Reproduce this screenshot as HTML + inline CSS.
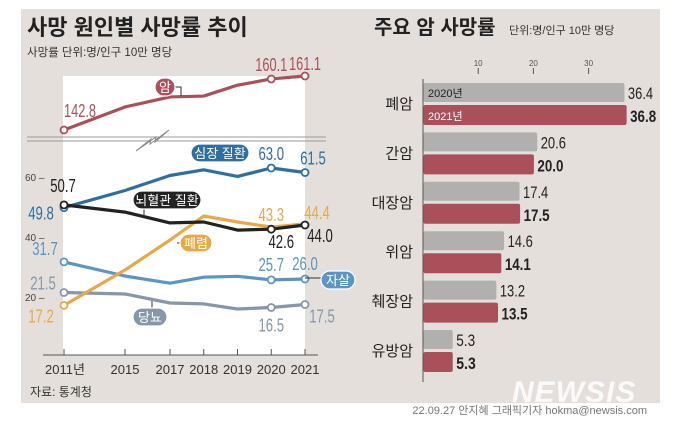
<!DOCTYPE html>
<html><head><meta charset="utf-8">
<style>
html,body{margin:0;padding:0;background:#fff;}
body{width:683px;height:431px;overflow:hidden;position:relative;font-family:"Liberation Sans","Noto Sans CJK KR",sans-serif;}
svg{position:absolute;left:0;top:0;}
</style></head>
<body>
<svg id="chart" width="683" height="431" viewBox="0 0 683 431" xmlns="http://www.w3.org/2000/svg">
  <rect x="21" y="9" width="639" height="394" fill="#e4dfda"/>
  <rect x="63" y="76" width="242" height="279" fill="#ffffff"/>
  <text x="27" y="35" font-size="22" font-weight="bold" fill="#222">사망 원인별 사망률 추이</text>
  <text x="27" y="56" font-size="11.5" fill="#333">사망률 단위:명/인구 10만 명당</text>
  <g>
    <line x1="27" y1="137" x2="326" y2="137" stroke="#9a9a9a" stroke-width="1"/>
    <line x1="27" y1="141" x2="326" y2="141" stroke="#9a9a9a" stroke-width="1"/>
    <polygon points="136,151 151,139 150,144 169,130 155,142 156,137" fill="#fff" stroke="#888" stroke-width="1"/>
  </g>
  <g id="lines"></g>
  <g id="xaxis"></g>
  <text x="30" y="396" font-size="12" fill="#333">자료: 통계청</text>

  <text x="374" y="34" font-size="20" font-weight="bold" fill="#222">주요 암 사망률</text>
  <text x="509" y="34" font-size="11" fill="#333">단위:명/인구 10만 명당</text>
  <g id="bars"></g>

  <text x="512" y="402" font-size="30" font-weight="bold" font-style="italic" fill="#ffffff" fill-opacity="0.85" letter-spacing="1">NEWSIS</text>
  <text x="647" y="414" font-size="11" fill="#777" text-anchor="end">22.09.27 안지혜 그래픽기자 hokma@newsis.com</text>
</svg>
<script>
const years = [2011, 2015, 2017, 2018, 2019, 2020, 2021];
const yearLabels = ["2011년", "2015", "2017", "2018", "2019", "2020", "2021"];
const cancer = [142.8, 150.6, 154.0, 154.3, 158.0, 160.1, 161.1];
const heart = [49.8, 55.5, 60.5, 62.4, 60.2, 63.0, 61.5];
const cerebro = [50.7, 48.3, 44.7, 45.0, 42.3, 42.6, 44.0];
const pneumonia = [17.2, 29.0, 39.0, 47.0, 45.0, 43.3, 44.4];
const suicide = [31.7, 27.0, 24.6, 26.6, 26.9, 25.7, 26.0];
const diabetes = [21.5, 21.0, 18.0, 17.7, 16.0, 16.5, 17.5];
const yTicks = [60, 40, 20];

const cancerTypes = ["폐암", "간암", "대장암", "위암", "췌장암", "유방암"];
const rate2020 = [36.4, 20.6, 17.4, 14.6, 13.2, 5.3];
const rate2021 = [36.8, 20.0, 17.5, 14.1, 13.5, 5.3];
const barTicks = [10, 20, 30];

const NS = "http://www.w3.org/2000/svg";
function mk(tag, attrs, parent, text) {
  const e = document.createElementNS(NS, tag);
  for (const k in attrs) e.setAttribute(k, attrs[k]);
  if (text !== undefined) e.textContent = text;
  parent.appendChild(e);
  return e;
}
const xb = [2011, 2015, 2017, 2021], xp = [64, 125, 170, 305];
function xS(yr) {
  for (let i = 0; i < xb.length - 1; i++) {
    if (yr <= xb[i + 1]) return xp[i] + (yr - xb[i]) / (xb[i + 1] - xb[i]) * (xp[i + 1] - xp[i]);
  }
  return xp[xp.length - 1];
}
function yS(v) { return 297 - (v - 20) * 3; }
function yC(v) { return 130 - (v - 142.8) * 2.95; }

const L = document.getElementById("lines");

yTicks.forEach(t => {
  const g = mk("text", {x: 25, y: yS(t) + 4, "font-size": 10, fill: "#444"}, L, t + " –");
  
  
});

function drawSeries(vals, color, name, ys, dots, labels) {
  const pts = vals.map((v, i) => xS(years[i]) + "," + ys(v)).join(" ");
  const pl = mk("polyline", {points: pts, fill: "none", stroke: color, "stroke-width": 3.2, "stroke-linejoin": "round"}, L);
  
  
  dots.forEach(i => {
    const c = mk("circle", {cx: xS(years[i]), cy: ys(vals[i]), r: 3.5, fill: "#fff", stroke: color, "stroke-width": 1.8}, L);
    
    
  });
  labels.forEach(lb => {
    const s = vals[lb.i].toFixed(1);
    const t = mk("text", {x: xS(years[lb.i]) + lb.dx, y: ys(vals[lb.i]) + lb.dy, "font-size": 18, fill: lb.c || color, "text-anchor": "middle", textLength: s.length * 6.4, lengthAdjust: "spacingAndGlyphs"}, L, s);
    
    
  });
}
function pill(cx, cy, w, txt, bg, name) {
  const g = mk("g", {}, L);
  
  
  mk("rect", {x: cx - w / 2, y: cy - 9, width: w, height: 18, rx: 9, fill: bg, stroke: "#fff", "stroke-width": 1.2}, g);
  mk("text", {x: cx, y: cy + 5, "font-size": 13, fill: "#fff", "text-anchor": "middle"}, g, txt);
}

drawSeries(cancer, "#a9505a", "cancer", yC, [0, 5, 6], [{i: 0, dx: 16, dy: -13}, {i: 5, dx: 0, dy: -8}, {i: 6, dx: 0, dy: -6}]);
drawSeries(diabetes, "#8597a8", "diabetes", yS, [0, 5, 6], [{i: 0, dx: -21, dy: -3}, {i: 5, dx: 0, dy: 24}, {i: 6, dx: 17, dy: 18}]);
drawSeries(suicide, "#5b95c4", "suicide", yS, [0, 5, 6], [{i: 0, dx: -19, dy: -7}, {i: 5, dx: 0, dy: -9}, {i: 6, dx: 0, dy: -9}]);
drawSeries(pneumonia, "#e8a84a", "pneumonia", yS, [0], [{i: 0, dx: -23, dy: 17}, {i: 5, dx: 0, dy: -6}, {i: 6, dx: 12, dy: -5}]);
drawSeries(heart, "#2e6fa0", "heart", yS, [0, 5, 6], [{i: 0, dx: -23, dy: 12}, {i: 5, dx: 0, dy: -8}, {i: 6, dx: 8, dy: -8}]);
drawSeries(cerebro, "#222222", "cerebrovascular", yS, [0, 5, 6], [{i: 0, dx: -1, dy: -13}, {i: 5, dx: 10, dy: 19}, {i: 6, dx: 15, dy: 17}]);

mk("polyline", {points: "174,87 181,87 181,96", fill: "none", stroke: "#333", "stroke-width": 1}, L);
pill(165, 87, 20, "암", "#a9505a", "cancer-legend-pill");
pill(220, 153, 58, "심장 질환", "#2e6fa0", "heart-legend-pill");
mk("line", {x1: 144, y1: 208, x2: 144, y2: 216, stroke: "#333", "stroke-width": 1}, L);
pill(167, 200, 68, "뇌혈관 질환", "#222", "cerebro-legend-pill");
mk("line", {x1: 177, y1: 243, x2: 188, y2: 243, stroke: "#333", "stroke-width": 1}, L);
pill(196, 243, 32, "폐렴", "#e8a84a", "pneumonia-legend-pill");
mk("line", {x1: 305, y1: 278, x2: 322, y2: 278, stroke: "#333", "stroke-width": 1}, L);
pill(338, 280, 34, "자살", "#5b95c4", "suicide-legend-pill");
mk("line", {x1: 152, y1: 301, x2: 152, y2: 310, stroke: "#333", "stroke-width": 1}, L);
pill(150, 317, 34, "당뇨", "#8597a8", "diabetes-legend-pill");

const X = document.getElementById("xaxis");
const ax = mk("line", {x1: 43, y1: 355, x2: 318, y2: 355, stroke: "#555", "stroke-width": 1}, X);


years.forEach((yr, i) => {
  mk("line", {x1: xS(yr), y1: 349, x2: xS(yr), y2: 355, stroke: "#555", "stroke-width": 1}, X);
  const t = mk("text", {x: xS(yr) + (i === 0 ? 1 : 0), y: 374, "font-size": 13, fill: "#333", "text-anchor": "middle"}, X, yearLabels[i]);
  
  
});

const B = document.getElementById("bars");
const x0 = 423, ppu = 5.52;
function bx(v) { return x0 + v * ppu; }
barTicks.forEach(t => {
  const tl = mk("text", {x: bx(t), y: 66, "font-size": 8, fill: "#555", "text-anchor": "middle"}, B, t);
  
  
  mk("line", {x1: bx(t), y1: 68, x2: bx(t), y2: 74, stroke: "#555", "stroke-width": 1}, B);
});
const bAxis = mk("line", {x1: x0, y1: 79, x2: x0, y2: 382, stroke: "#555", "stroke-width": 1}, B);


cancerTypes.forEach((c, i) => {
  const top = 83 + i * 49.4;
  const cl = mk("text", {x: 413, y: top + 26, "font-size": 15, fill: "#222", "text-anchor": "end"}, B, c);
  
  
  const r1 = mk("rect", {x: x0 + 0.5, y: top, width: rate2020[i] * ppu, height: 19, rx: 2, fill: "#b2b0ae"}, B);
  
  
  const r2 = mk("rect", {x: x0 + 0.5, y: top + 22, width: rate2021[i] * ppu, height: 20, rx: 2, fill: "#a9505a"}, B);
  
  
  const s1 = rate2020[i].toFixed(1), s2 = rate2021[i].toFixed(1);
  const v1 = mk("text", {x: bx(rate2020[i]) + 4, y: top + 16, "font-size": 17, fill: "#222", textLength: s1.length * 6.3, lengthAdjust: "spacingAndGlyphs"}, B, s1);
  
  
  const v2 = mk("text", {x: bx(rate2021[i]) + 4, y: top + 39, "font-size": 17, "font-weight": "bold", fill: "#222", textLength: s2.length * 6.5, lengthAdjust: "spacingAndGlyphs"}, B, s2);
  
  
  if (i === 0) {
    mk("text", {x: 428, y: top + 14, "font-size": 11, fill: "#222"}, B, "2020년");
    mk("text", {x: 428, y: top + 37, "font-size": 11, fill: "#fff"}, B, "2021년");
  }
});
</script>
</body></html>
